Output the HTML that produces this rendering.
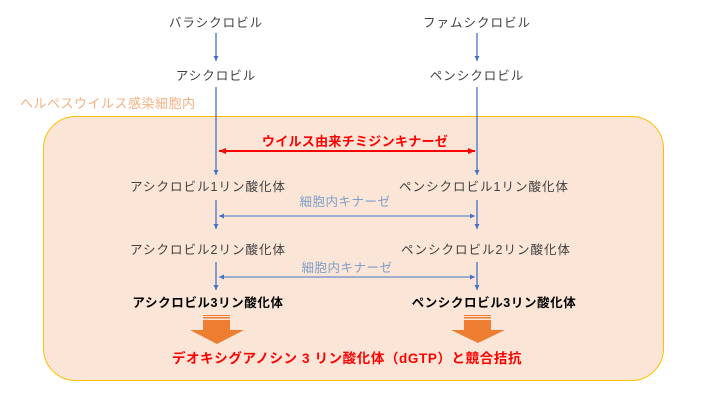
<!DOCTYPE html>
<html><head><meta charset="utf-8"><style>
html,body{margin:0;padding:0;background:#fff;width:720px;height:405px;overflow:hidden}
svg text{font-family:"Liberation Sans","Noto Sans CJK JP",sans-serif;font-size:12.5px}
</style></head><body>
<svg width="720" height="405" xmlns="http://www.w3.org/2000/svg">
<defs>
<marker id="ab" markerWidth="6" markerHeight="6" refX="5" refY="3" orient="auto" markerUnits="userSpaceOnUse"><path d="M0,0.5 L5,3 L0,5.5z" fill="#4472c4"/></marker>
<marker id="ab2" markerWidth="6" markerHeight="6" refX="1" refY="3" orient="auto" markerUnits="userSpaceOnUse"><path d="M6,0.5 L1,3 L6,5.5z" fill="#4472c4"/></marker>
<marker id="ar" markerWidth="8" markerHeight="8" refX="7" refY="4" orient="auto" markerUnits="userSpaceOnUse"><path d="M0,1 L7,4 L0,7z" fill="#ff0000"/></marker>
<marker id="ar2" markerWidth="8" markerHeight="8" refX="1" refY="4" orient="auto" markerUnits="userSpaceOnUse"><path d="M8,1 L1,4 L8,7z" fill="#ff0000"/></marker>
</defs>
<text x="20" y="108" fill="#f4b183" style="font-size:13px;letter-spacing:0.5px">ヘルペスウイルス感染細胞内</text>
<rect x="43.5" y="116.5" width="620" height="264" rx="32" fill="#fbe5d6" stroke="#ffc000" stroke-width="1"/>
<g fill="#404040" text-anchor="middle" style="letter-spacing:1px">
<text x="216" y="27">バラシクロビル</text>
<text x="477" y="27">ファムシクロビル</text>
<text x="216" y="80">アシクロビル</text>
<text x="477" y="80">ペンシクロビル</text>
<text x="208" y="191">アシクロビル1リン酸化体</text>
<text x="484" y="191">ペンシクロビル1リン酸化体</text>
<text x="208" y="254">アシクロビル2リン酸化体</text>
<text x="486" y="254">ペンシクロビル2リン酸化体</text>
</g>
<g fill="#000" font-weight="bold" text-anchor="middle" style="font-size:13.5px;letter-spacing:0.6px">
<text x="208" y="307">アシクロビル3リン酸化体</text>
<text x="494" y="307">ペンシクロビル3リン酸化体</text>
</g>
<g fill="#7f9fc8" text-anchor="middle" style="letter-spacing:0.5px">
<text x="345" y="206">細胞内キナーゼ</text>
<text x="347" y="272">細胞内キナーゼ</text>
</g>
<text x="355" y="146" fill="#ff0000" font-weight="bold" text-anchor="middle" style="font-size:13px;letter-spacing:0.3px">ウイルス由来チミジンキナーゼ</text>
<text x="347" y="363" fill="#ff0000" font-weight="bold" text-anchor="middle" style="font-size:13.5px;letter-spacing:0.6px">デオキシグアノシン 3 リン酸化体（dGTP）と競合拮抗</text>
<g stroke="#4472c4" stroke-width="1.3">
<line x1="216" y1="33" x2="216" y2="61" marker-end="url(#ab)"/>
<line x1="477" y1="33" x2="477" y2="61" marker-end="url(#ab)"/>
<line x1="216" y1="87" x2="216" y2="175" marker-end="url(#ab)"/>
<line x1="477" y1="87" x2="477" y2="175" marker-end="url(#ab)"/>
<line x1="216" y1="200" x2="216" y2="229" marker-end="url(#ab)"/>
<line x1="477" y1="200" x2="477" y2="229" marker-end="url(#ab)"/>
<line x1="216" y1="262" x2="216" y2="290" marker-end="url(#ab)"/>
<line x1="477" y1="262" x2="477" y2="290" marker-end="url(#ab)"/>
<line x1="219" y1="216" x2="475" y2="216" marker-end="url(#ab)" marker-start="url(#ab2)" stroke-width="1"/>
<line x1="219" y1="277" x2="475" y2="277" marker-end="url(#ab)" marker-start="url(#ab2)" stroke-width="1"/>
</g>
<line x1="219" y1="151" x2="475" y2="151" stroke="#ff0000" stroke-width="2" marker-end="url(#ar)" marker-start="url(#ar2)"/>
<g fill="#ed7d31">
<rect x="203" y="315" width="27" height="1"/><rect x="203" y="317" width="27" height="1.5"/><rect x="203" y="320" width="27" height="11"/>
<path d="M190,330 L244,330 L217,344z"/>
<rect x="464" y="315" width="27" height="1"/><rect x="464" y="317" width="27" height="1.5"/><rect x="464" y="320" width="27" height="11"/>
<path d="M451,330 L505,330 L478,343z"/>
</g>
</svg>
</body></html>
